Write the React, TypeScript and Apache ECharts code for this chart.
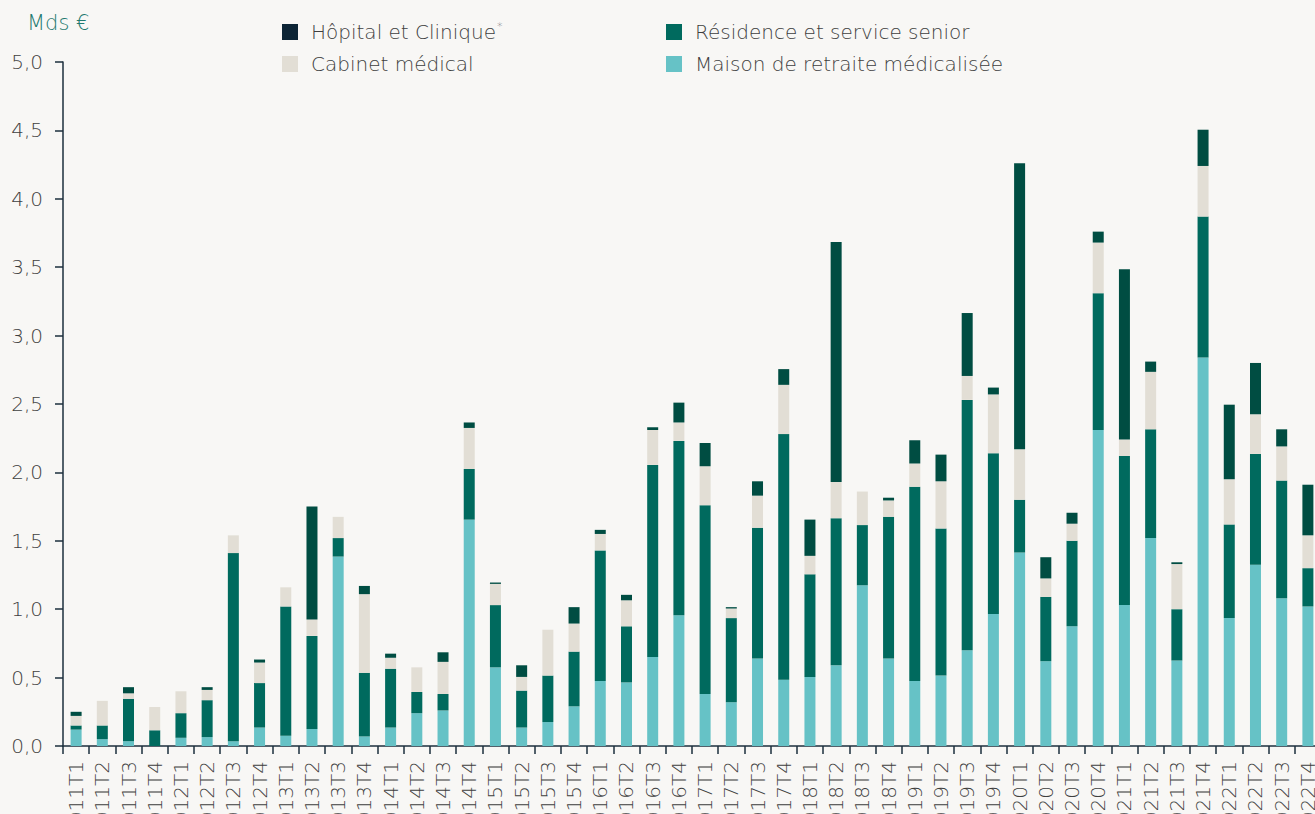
import React, { useEffect, useRef } from "react";
import * as echarts from "echarts";

const categories = [
  "2011T1","2011T2","2011T3","2011T4","2012T1","2012T2","2012T3","2012T4",
  "2013T1","2013T2","2013T3","2013T4","2014T1","2014T2","2014T3","2014T4",
  "2015T1","2015T2","2015T3","2015T4","2016T1","2016T2","2016T3","2016T4",
  "2017T1","2017T2","2017T3","2017T4","2018T1","2018T2","2018T3","2018T4",
  "2019T1","2019T2","2019T3","2019T4","2020T1","2020T2","2020T3","2020T4",
  "2021T1","2021T2","2021T3","2021T4","2022T1","2022T2","2022T3","2022T4",
];

const maison = [
  0.12,0.05,0.035,0,0.06,0.065,0.035,0.135,
  0.075,0.125,1.385,0.07,0.135,0.24,0.26,1.655,
  0.575,0.135,0.175,0.29,0.475,0.465,0.65,0.955,
  0.38,0.32,0.64,0.485,0.505,0.59,1.175,0.64,
  0.475,0.515,0.70,0.965,1.415,0.62,0.875,2.31,
  1.03,1.52,0.625,2.84,0.935,1.325,1.08,1.02,
];
const residence = [
  0.03,0.10,0.31,0.115,0.18,0.27,1.375,0.325,
  0.945,0.68,0.135,0.465,0.43,0.155,0.12,0.37,
  0.455,0.27,0.34,0.40,0.955,0.41,1.405,1.275,
  1.38,0.615,0.955,1.795,0.75,1.075,0.44,1.035,
  1.42,1.075,1.83,1.175,0.385,0.47,0.625,1.0,
  1.09,0.795,0.375,1.03,0.685,0.81,0.86,0.28,
];
const cabinet = [
  0.07,0.18,0.04,0.17,0.16,0.075,0.13,0.15,
  0.14,0.12,0.155,0.575,0.08,0.18,0.235,0.30,
  0.155,0.10,0.335,0.205,0.12,0.19,0.255,0.135,
  0.285,0.07,0.235,0.36,0.135,0.265,0.245,0.12,
  0.17,0.345,0.175,0.43,0.37,0.135,0.125,0.37,
  0.12,0.42,0.33,0.37,0.33,0.29,0.25,0.24,
];
const hopital = [
  0.03,0,0.045,0,0,0.02,0,0.022,
  0,0.825,0,0.06,0.03,0,0.07,0.04,
  0.01,0.085,0,0.12,0.03,0.04,0.02,0.145,
  0.17,0.01,0.105,0.115,0.265,1.755,0,0.02,
  0.17,0.195,0.46,0.05,2.09,0.155,0.08,0.08,
  1.245,0.075,0.013,0.265,0.545,0.375,0.125,0.37,
];

const yTicks = [0, 0.5, 1, 1.5, 2, 2.5, 3, 3.5, 4, 4.5, 5];

const FONT = "'DejaVu Sans', 'Open Sans', sans-serif";
const WEIGHT = 200;
const GRAY = "#3f3f3f";
const AXIS = "#1c2f3c";

export default function App() {
  const ref = useRef<HTMLDivElement>(null);
  useEffect(() => {
    if (!ref.current) return;
    const chart = echarts.init(ref.current, null, { renderer: "svg" });
    const mk = (name: string, data: number[], color: string) => ({
      name,
      type: "bar",
      stack: "total",
      data,
      barWidth: 11,
      itemStyle: { color },
      emphasis: { disabled: true },
    });
    const legendText = {
      fontFamily: FONT,
      fontSize: 20,
      fontWeight: WEIGHT,
      color: GRAY,
      lineHeight: 22,
      padding: [0, 0, 0, 8],
      rich: {
        n: { fontFamily: FONT, fontSize: 20, fontWeight: WEIGHT, color: GRAY, lineHeight: 22 },
        s: { fontFamily: FONT, fontSize: 11, fontWeight: WEIGHT, color: "#7a7a7a", verticalAlign: "top", lineHeight: 22, padding: [0, 0, 6, 1] },
      },
    };
    const fmt = (name: string) =>
      name === "Hôpital et Clinique" ? "{n|" + name + "}{s|*}" : "{n|" + name + "}";
    chart.setOption({
      animation: false,
      backgroundColor: "#f8f7f5",
      textStyle: { fontFamily: FONT },
      title: {
        text: "Mds €",
        left: 27,
        top: 12,
        padding: 0,
        textStyle: { fontFamily: FONT, fontSize: 21, fontWeight: WEIGHT, color: "#1f7a70" },
      },
      legend: [
        {
          orient: "vertical",
          left: 282,
          top: 21,
          padding: 0,
          itemWidth: 16,
          itemHeight: 16,
          itemGap: 10,
          icon: "rect",
          selectedMode: false,
          formatter: fmt,
          textStyle: legendText,
          data: [
            { name: "Hôpital et Clinique", itemStyle: { color: "#0d2536" } },
            { name: "Cabinet médical" },
          ],
        },
        {
          orient: "vertical",
          left: 666,
          top: 21,
          padding: 0,
          itemWidth: 16,
          itemHeight: 16,
          itemGap: 10,
          icon: "rect",
          selectedMode: false,
          formatter: fmt,
          textStyle: legendText,
          data: [
            { name: "Résidence et service senior" },
            { name: "Maison de retraite médicalisée" },
          ],
        },
      ],
      grid: { left: 63, right: -6, top: 62, bottom: 68, containLabel: false, outerBoundsMode: "none" },
      xAxis: {
        type: "category",
        data: categories,
        axisLine: { show: true, lineStyle: { color: AXIS, width: 1.5 } },
        axisTick: { show: true, length: 8, alignWithLabel: false, lineStyle: { color: AXIS, width: 1.5 } },
        axisLabel: { rotate: 90, margin: 15, interval: 0, fontFamily: FONT, fontSize: 20, fontWeight: WEIGHT, color: GRAY },
      },
      yAxis: {
        type: "value",
        min: 0,
        max: 5,
        interval: 0.5,
        axisLine: { show: true, lineStyle: { color: AXIS, width: 1.5 } },
        axisTick: { show: true, length: 8, lineStyle: { color: AXIS, width: 1.5 } },
        splitLine: { show: false },
        axisLabel: {
          margin: 20,
          fontFamily: FONT,
          fontSize: 20,
          fontWeight: WEIGHT,
          color: GRAY,
          formatter: (v: number) => {
            const t = yTicks.find((x) => Math.abs(x - v) < 1e-9);
            return (t ?? v).toFixed(1).replace(".", ",");
          },
        },
      },
      series: [
        mk("Maison de retraite médicalisée", maison, "#66c2c6"),
        mk("Résidence et service senior", residence, "#006a5e"),
        mk("Cabinet médical", cabinet, "#e2ded5"),
        mk("Hôpital et Clinique", hopital, "#004d42"),
      ],
    });
    return () => chart.dispose();
  }, []);
  return (
    <div
      ref={ref}
      style={{ position: "absolute", left: 0, top: 0, width: 1315, height: 814, background: "#f8f7f5" }}
    />
  );
}
